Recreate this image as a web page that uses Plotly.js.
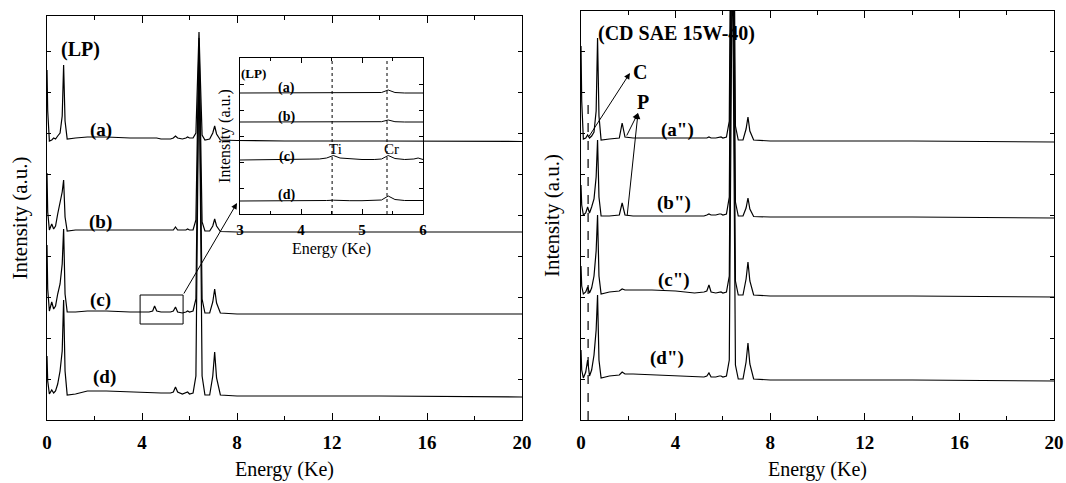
<!DOCTYPE html>
<html>
<head>
<meta charset="utf-8">
<script src="https://cdn.plot.ly/plotly-3.0.1.min.js"></script>
<style>html,body{margin:0;padding:0;background:#fff;}#chart{width:1066px;height:483px;}
#chart text{font-family:"Liberation Serif",serif !important;}</style>
</head>
<body>
<div id="chart"></div>
<script>
// ---------- DATA ----------
// Left panel (LP): energy grid (keV) and intensities above each curve's baseline
const energyL = [0, 0.03, 0.1, 0.2, 0.28, 0.36, 0.45, 0.55, 0.64, 0.70, 0.76, 0.85, 1.2, 1.7, 2.5, 3.5, 4.3, 4.45, 4.53, 4.62, 4.8, 5.2, 5.32, 5.41, 5.5, 5.7, 5.85, 5.92, 6.0, 6.15, 6.27, 6.34, 6.40, 6.46, 6.53, 6.65, 6.85, 6.98, 7.06, 7.14, 7.3, 8, 10, 14, 20];
const lpA = [71, 30, 0, 1, 3, 2, 5, 8, 25, 76, 20, 2, 3, 4, 4, 3, 3, 3, 3, 3, 2, 2, 3, 5, 3, 2, 3, 4, 3, 3, 8, 60, 109, 60, 6, 1, 2, 8, 15, 7, 1, 0.5, 0, 0, -0.5];
const lpB = [59, 20, 2, 8, 3, 6, 18, 28, 40, 52, 15, 1, 2, 2, 2, 2, 2, 2, 2, 2, 2, 2, 2, 5, 2, 2, 2, 3, 2, 2, 12, 110, 194, 110, 10, 1, 1, 6, 13, 6, 0.5, 0, 0, 0, 0];
const lpC = [69, 25, 3, 12, 5, 8, 20, 30, 50, 85, 20, 2, 2, 3, 3, 2, 2, 3, 8, 3, 2, 2, 3, 7, 2, 1, 2, 3, 2, 3, 15, 150, 269, 150, 15, 1, 1, 12, 25, 11, 1, 0, 0, 0, 0];
const lpD = [40, 15, 2, 6, 3, 5, 12, 25, 45, 96, 25, 1, 2, 5, 5, 4, 3, 3, 3, 3, 3, 3, 4, 9, 4, 2, 3, 4, 2, 3, 20, 200, 346, 200, 20, 1, 1, 20, 44, 18, 1, 0, 0, 0, -1];
const lpNames = ["(a)", "(b)", "(c)", "(d)"];
const lpOffsets = [279, 188, 106, 24];

// Right panel (CD SAE 15W-40)
const energyR = [0, 0.03, 0.1, 0.2, 0.28, 0.36, 0.45, 0.55, 0.64, 0.70, 0.76, 0.85, 1.2, 1.62, 1.74, 1.86, 2.2, 3, 4, 4.8, 5.2, 5.32, 5.41, 5.5, 5.7, 5.85, 5.92, 6.0, 6.15, 6.27, 6.34, 6.40, 6.46, 6.53, 6.65, 6.85, 6.98, 7.06, 7.14, 7.3, 8, 10, 14, 20];
const cdA = [95, 40, 2, 3, 6, 3, 5, 9, 30, 103, 25, 1, 2, 3, 18, 4, 3, 3, 3, 3, 3, 3, 4, 3, 3, 4, 4, 3, 4, 20, 250, 450, 250, 15, 1, 1, 12, 24, 10, 1, 0, 0, 0, -1];
const cdB = [32, 12, 2, 4, 10, 4, 10, 18, 40, 77, 20, 1, 1, 2, 14, 2, 1, 1, 1, 1, 1, 2, 3, 2, 2, 3, 3, 2, 3, 20, 250, 450, 250, 15, 1, 1, 9, 19, 8, 0.5, 0, 0, 0, -1];
const cdC = [30, 10, 2, 4, 9, 3, 8, 20, 45, 81, 20, 2, 4, 5, 7, 6, 6, 6, 5, 3, 4, 5, 11, 4, 3, 4, 4, 3, 4, 20, 250, 450, 250, 15, 1, 1, 17, 34, 15, 1, 0, 0, 0, -1];
const cdD = [30, 10, 2, 8, 20, 4, 10, 25, 50, 85, 20, 2, 4, 5, 8, 6, 6, 5, 4, 3, 3, 4, 7, 3, 3, 4, 4, 3, 4, 20, 250, 450, 250, 15, 1, 1, 18, 37, 16, 1, 0, 0, 0, -1];
const cdNames = ["(a\")", "(b\")", "(c\")", "(d\")"];
const cdOffsets = [279, 203, 124, 40];

// Inset (LP, 3-6 keV)
const energyI = [3, 3.5, 4.0, 4.3, 4.42, 4.53, 4.64, 4.8, 5.0, 5.2, 5.32, 5.43, 5.54, 5.7, 5.85, 5.92, 6.0];
const inA = [0, 0, 0, 0, 0, 0, 0, 0, 0, 0, 0.5, 3, 0.5, 0, 0, 0.5, 0];
const inB = [0, 0, 0, 0, 0, 0, 0, 0, 0, 0, 0.3, 2, 0.3, 0, 0, 0.3, 0];
const inC = [0, 0.3, 0.5, 1, 2, 4.5, 2, 1, 0.5, 0.5, 1, 4.5, 1.5, 0.5, 1, 2, 0.5];
const inD = [0, 0, 0.3, 0.3, 0.5, 0.8, 0.5, 0.3, 0.3, 0.5, 1, 5, 1.5, 0.5, 0.5, 1, 0.5];
const inNames = ["(a)", "(b)", "(c)", "(d)"];
const inOffsets = [121, 92, 54, 13];
const xTicksMain = [0, 4, 8, 12, 16, 20];
const xTicksInset = [3, 4, 5, 6];

// ---------- CHART ----------
const SERIF = "Liberation Serif";
const lineStyle = {color: "#000", width: 1.2};
const traces = [];
[lpA, lpB, lpC, lpD].forEach((v, i) => traces.push({
  x: energyL, y: v.map(t => t + lpOffsets[i]), type: "scatter", mode: "lines",
  name: "LP " + lpNames[i], line: lineStyle, xaxis: "x", yaxis: "y", hoverinfo: "x+name"
}));
[cdA, cdB, cdC, cdD].forEach((v, i) => traces.push({
  x: energyR, y: v.map(t => t + cdOffsets[i]), type: "scatter", mode: "lines",
  name: "CD " + cdNames[i], line: lineStyle, xaxis: "x2", yaxis: "y2", hoverinfo: "x+name"
}));
[inA, inB, inC, inD].forEach((v, i) => traces.push({
  x: energyI, y: v.map(t => t + inOffsets[i]), type: "scatter", mode: "lines",
  name: "inset " + inNames[i], line: {color: "#000", width: 1}, xaxis: "x3", yaxis: "y3", hoverinfo: "x+name"
}));

const W = 1066, H = 483;
const px = v => v / W, py = v => 1 - v / H;

function xAxis(domain, anchor, range, tickvals, fsize, tsize, titleText, standoff, lblOff) {
  return {
    domain: domain, anchor: anchor, range: range, tickmode: "array", tickvals: tickvals,
    ticktext: tickvals.map(v => "<b>" + v + "</b>"),
    ticks: "inside", ticklen: 7, tickwidth: 1, tickcolor: "#000",
    minor: {ticks: "inside", ticklen: 4, dtick: (tickvals[1] - tickvals[0]) / 2, tickcolor: "#000"},
    showline: true, linecolor: "#000", linewidth: 1.2, mirror: "ticks",
    showgrid: false, zeroline: false, ticklabelstandoff: lblOff,
    tickfont: {family: SERIF, size: fsize, color: "#000"},
    title: {text: titleText, font: {family: SERIF, size: tsize, color: "#000"}, standoff: standoff},
    fixedrange: true
  };
}
function yAxis(domain, anchor, range, dtick, tsize, titleText, standoff) {
  return {
    domain: domain, anchor: anchor, range: range, dtick: dtick, tick0: 0,
    ticks: "inside", ticklen: 4, tickwidth: 1, tickcolor: "#000",
    showticklabels: false, showline: true, linecolor: "#000", linewidth: 1.2, mirror: "ticks",
    showgrid: false, zeroline: false,
    title: {text: titleText, font: {family: SERIF, size: tsize, color: "#000"}, standoff: standoff},
    fixedrange: true
  };
}

const bold = (t) => "<b>" + t + "</b>";
const ann = [];
function label(text, xref, yref, x, y, size) {
  ann.push({text: bold(text), xref: xref, yref: yref, x: x, y: y, showarrow: false,
    font: {family: SERIF, size: size, color: "#000"}, xanchor: "center", yanchor: "middle"});
}
// left panel labels
label("(LP)", "x", "y", 1.39, 370, 20);
const lpLabelX = [2.27, 2.27, 2.27, 2.4];
const lpLabelY = [290, 198, 120, 43];
lpNames.forEach((n, i) => label(n, "x", "y", lpLabelX[i], lpLabelY[i], 19));
// right panel labels
label("(CD SAE 15W-40)", "x2", "y2", 4.02, 387, 20);
const cdLabelX = [4.06, 3.93, 3.95, 3.65];
const cdLabelY = [290, 217, 140, 62];
cdNames.forEach((n, i) => label(n, "x2", "y2", cdLabelX[i], cdLabelY[i], 19));
label("C", "x2", "y2", 2.49, 348, 20);
label("P", "x2", "y2", 2.62, 318, 20);
// inset labels
label("(LP)", "x3", "y3", 3.22, 141, 13);
const inLabelY = [126, 97, 57, 19];
inNames.forEach((n, i) => label(n, "x3", "y3", 3.77, inLabelY[i], 14));
["Ti", "Cr"].forEach((t, i) => ann.push({text: t, xref: "x3", yref: "y3", x: [4.57, 5.49][i], y: 65,
  showarrow: false, font: {family: SERIF, size: 15, color: "#000"}}));
// arrows
function arrow(xref, yref, x, y, ax, ay) {
  ann.push({text: "", xref: xref, yref: yref, x: x, y: y, ax: ax, ay: ay, showarrow: true,
    arrowhead: 2, arrowsize: 1.2, arrowwidth: 1, arrowcolor: "#000"});
}
arrow("x", "y", 8.0, 217, -54, 92);
arrow("x2", "y2", 2.07, 347, -42, 65);
arrow("x2", "y2", 2.41, 307, -12, 24);
arrow("x2", "y2", 2.41, 307, -11, 104);

const shapes = [
  {type: "rect", xref: "x", yref: "y", x0: 3.92, x1: 5.73, y0: 96, y1: 125, line: {color: "#000", width: 1}},
  {type: "line", xref: "x2", yref: "y2", x0: 0.3, x1: 0.3, y0: 0, y1: 318, line: {color: "#000", width: 1.2, dash: "dash"}},
  {type: "line", xref: "x3", yref: "y3 domain", x0: 4.51, x1: 4.51, y0: 0, y1: 1, line: {color: "#000", width: 1, dash: "dot"}},
  {type: "line", xref: "x3", yref: "y3 domain", x0: 5.41, x1: 5.41, y0: 0, y1: 1, line: {color: "#000", width: 1, dash: "dot"}}
];

const layout = {
  width: W, height: H, autosize: false,
  margin: {l: 0, r: 0, t: 0, b: 0},
  paper_bgcolor: "#fff", plot_bgcolor: "rgba(0,0,0,0)",
  showlegend: false,
  font: {family: SERIF, color: "#000"},
  xaxis: xAxis([px(47), px(522)], "y", [0, 20], xTicksMain, 19, 20, "Energy (Ke)", 10, 5),
  yaxis: yAxis([py(420), py(16)], "x", [0, 404], 41, 21, "Intensity (a.u.)", 12),
  xaxis2: xAxis([px(581), px(1054)], "y2", [0, 20], xTicksMain, 19, 20, "Energy (Ke)", 10, 5),
  yaxis2: yAxis([py(420), py(11)], "x2", [0, 409], 41, 21, "Intensity (a.u.)", 14),
  xaxis3: xAxis([px(240), px(423)], "y3", [3, 6], xTicksInset, 15, 16, "Energy (Ke)", 5, 2),
  yaxis3: yAxis([py(214), py(58)], "x3", [0, 156], 26, 16, "Intensity (a.u.)", 4),
  annotations: ann, shapes: shapes
};
layout.xaxis3.ticklen = 5; layout.xaxis3.minor.ticklen = 3;

Plotly.newPlot("chart", traces, layout, {displayModeBar: false, staticPlot: true});
</script>
</body>
</html>
